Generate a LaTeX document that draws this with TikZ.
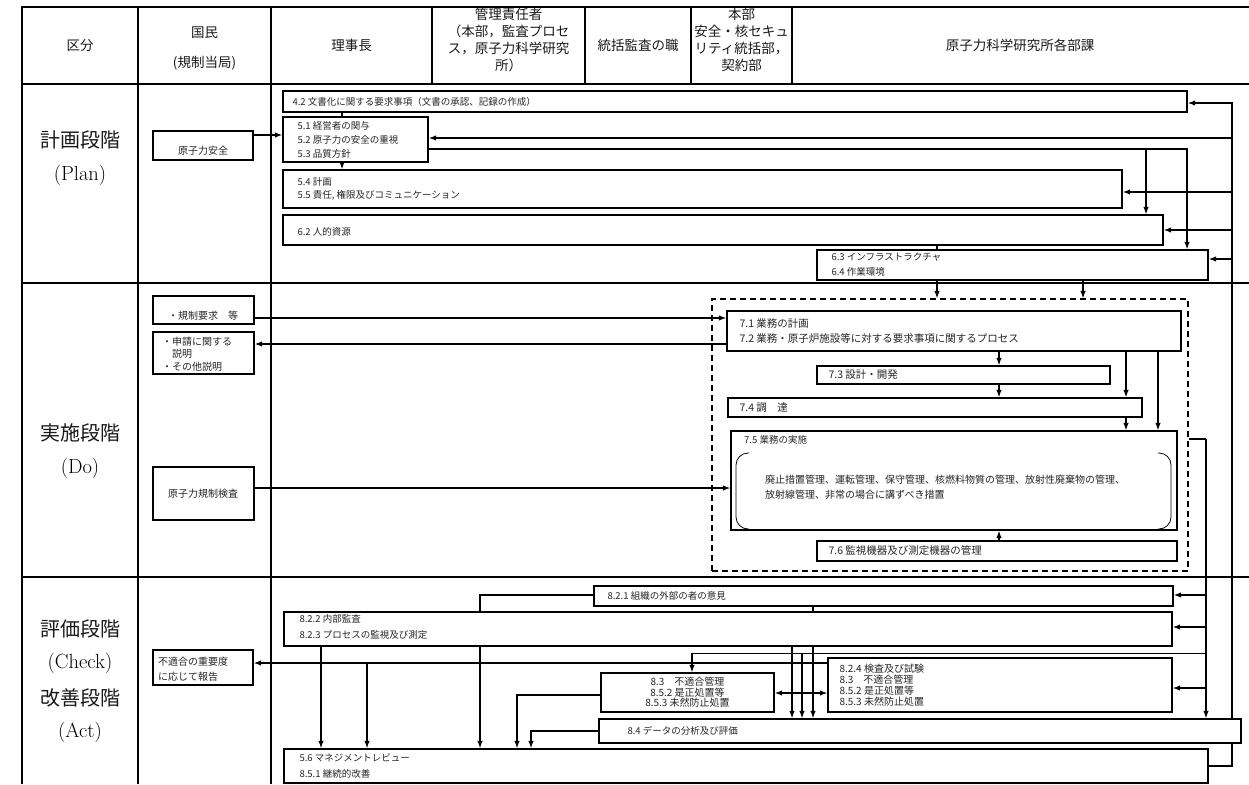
\documentclass[tikz,border=0pt]{standalone}
\usepackage{fontspec}
\newfontfamily\cjk{Noto Sans CJK JP}
\usetikzlibrary{fit,arrows.meta}
\newcommand\fs[2]{\fontsize{#1}{#2}\selectfont\cjk}
\begin{document}
\begin{tikzpicture}[x=1pt,y=-1pt,
 tline/.style={line width=2.4pt},
 box/.style={draw, line width=1.3pt, fill=white, inner sep=0pt, rectangle},
 conn/.style={line width=1.2pt},
 arr/.style={conn, -{Latex[length=7.5pt,width=5.5pt]}},
 darr/.style={conn, {Latex[length=7.5pt,width=5.5pt]}-{Latex[length=7.5pt,width=5.5pt]}},
 thinl/.style={line width=0.7pt},
 txt/.style={inner sep=0pt, align=left, anchor=west, text=black!85},
 ctxt/.style={inner sep=0pt, align=center, text=black!85},
 hdr/.style={inner sep=0pt, align=center, font=\fs{13.5}{17}, text=black!90},
 lbl/.style={inner sep=0pt, font=\fs{20}{24}, text=black!90},
 lat/.style={inner sep=0pt, font=\fontsize{20.5}{24}\selectfont\rmfamily},
]
\useasboundingbox (0,0) rectangle (1249,784);

% ---------- table ----------
\draw[tline] (1249,7) -- (22,7) -- (22,784);
\draw[tline] (22,84) -- (1249,84);
\draw[tline] (22,283) -- (1249,283);
\draw[tline] (22,577) -- (1249,577);
\foreach \x in {138,271} \draw[tline] (\x,7) -- (\x,784);
\foreach \x in {432,585,691,792} \draw[tline] (\x,7) -- (\x,84);

% ---------- header ----------
\node[hdr] (h1) at (80,45.5) {区分};
\node[hdr, font=\fs{13.5}{30}] (h2) at (204.5,48) {国民\\(規制当局)};
\node[hdr] (h3) at (351.5,45.5) {理事長};
\node[hdr] (h4) at (508.5,39.5) {管理責任者\\（本部，監査プロセ\\ス，原子力科学研究\\所）};
\node[hdr] (h5) at (638,45.5) {統括監査の職};
\node[hdr] (h6) at (741.5,39.5) {本部\\安全・核セキュ\\リティ統括部，\\契約部};
\node[hdr] (h7) at (1020,45.5) {原子力科学研究所各部課};

% ---------- row labels ----------
\node[lbl] (l1) at (80,140) {計画段階};
\node[lat] (l2) at (80,175) {(Plan)};
\node[lbl] (l3) at (80,433) {実施段階};
\node[lat] (l4) at (80,468) {(Do)};
\node[lbl] (l5) at (80,629) {評価段階};
\node[lat] (l6) at (80,663) {(Check)};
\node[lbl] (l7) at (80,698) {改善段階};
\node[lat] (l8) at (80,732) {(Act)};

% ---------- plan boxes ----------
\node[box, fit={(283,91)(1187,112)}] (b42) {};
\node[txt, font=\fs{9.5}{12}] (t42) at ([xshift=10pt]b42.west) {4.2 文書化に関する要求事項（文書の承認、記録の作成）};
\node[box, fit={(283,117)(428,162)}] (b51) {};
\node[txt, font=\fs{9.5}{14}] (t51) at ([xshift=15pt]b51.west) {5.1 経営者の関与\\5.2 原子力の安全の重視\\5.3 品質方針};
\node[box, fit={(283,170)(1122,208)}] (b54) {};
\node[txt, font=\fs{9.5}{12.5}] (t54) at ([xshift=15pt]b54.west) {5.4 計画\\5.5 責任, 権限及びコミュニケーション};
\node[box, fit={(283,215)(1163,245)}] (b62) {};
\node[txt, font=\fs{9.5}{12}] (t62) at ([xshift=15pt,yshift=-1.5pt]b62.west) {6.2 人的資源};
\node[box, fit={(817,250)(1208,280)}] (b63) {};
\node[txt, font=\fs{9.5}{15}] (t63) at ([xshift=15pt]b63.west) {6.3 インフラストラクチャ\\6.4 作業環境};
\node[box, fit={(153,131)(253,160)}] (bsafe) {};
\node[ctxt, font=\fs{10}{12}] (tsafe) at (203,151) {原子力安全};

% ---------- do boxes ----------
\node[draw, dashed, dash pattern=on 6pt off 4pt, line width=1.2pt, inner sep=0pt, fit={(712,299)(1188,571)}] (dbox) {};
\node[box, fit={(727,311)(1181,351)}] (b71) {};
\node[txt, font=\fs{10.5}{15}] (t71) at ([xshift=13pt]b71.west) {7.1 業務の計画\\7.2 業務・原子炉施設等に対する要求事項に関するプロセス};
\node[box, fit={(817,366)(1110,384)}] (b73) {};
\node[txt, font=\fs{10.5}{12}] (t73) at ([xshift=12pt]b73.west) {7.3 設計・開発};
\node[box, fit={(728,398)(1142,417)}] (b74) {};
\node[txt, font=\fs{10.5}{12}] (t74) at ([xshift=12pt]b74.west) {7.4 調　達};
\node[box, fit={(731,431)(1177,530)}] (b75) {};
\node[txt, font=\fs{9.5}{12}] (t75) at (744,440) {7.5 業務の実施};
\draw[line width=0.8pt, rounded corners=12pt] (749,453) -- (736,453) -- (736,529) -- (749,529);
\draw[line width=0.8pt, rounded corners=12pt] (1158,453) -- (1171,453) -- (1171,529) -- (1158,529);
\node[txt, font=\fs{10}{15}] (t75b) at (765,487) {廃止措置管理、運転管理、保守管理、核燃料物質の管理、放射性廃棄物の管理、\\放射線管理、非常の場合に講ずべき措置};
\node[box, fit={(817,541)(1177,561)}] (b76) {};
\node[txt, font=\fs{10.5}{12}] (t76) at ([xshift=12pt]b76.west) {7.6 監視機器及び測定機器の管理};
\node[box, fit={(153,296)(254,324)}] (breg) {};
\node[ctxt, font=\fs{10}{12}] (treg) at (203,316) {・規制要求　等};
\node[box, fit={(153,332)(254,374)}] (bapp) {};
\node[txt, font=\fs{10}{12.5}] (tapp) at (162,354) {・申請に関する\\　説明\\・その他説明};
\node[box, fit={(153,467)(254,520)}] (binsp) {};
\node[ctxt, font=\fs{10}{12}] (tinsp) at (203,494) {原子力規制検査};

% ---------- check boxes ----------
\node[box, fit={(594,586)(1173,606)}] (b821) {};
\node[txt, font=\fs{9.5}{12}] (t821) at ([xshift=14pt]b821.west) {8.2.1 組織の外部の者の意見};
\node[box, fit={(284,612)(1172,646)}] (b822) {};
\node[txt, font=\fs{9.5}{16}] (t822) at ([xshift=16pt,yshift=2pt]b822.west) {8.2.2 内部監査\\8.2.3 プロセスの監視及び測定};
\node[box, fit={(153,650)(253,685)}] (bnc) {};
\node[txt, font=\fs{10}{15}] (tnc) at (158,669) {不適合の重要度\\に応じて報告};
\node[box, fit={(601,673)(774,712)}] (b83) {};
\node[ctxt, font=\fs{10}{10.5}] (t83) at (b83.center) {8.3　不適合管理\\8.5.2 是正処置等\\8.5.3 未然防止処置};
\node[box, fit={(828,658)(1172,712)}] (b824) {};
\node[txt, font=\fs{10}{11}] (t824) at ([xshift=12pt]b824.west) {8.2.4 検査及び試験\\8.3　不適合管理\\8.5.2 是正処置等\\8.5.3 未然防止処置};
\node[box, fit={(599,719)(1241,743)}] (b84) {};
\node[txt, font=\fs{9.5}{12}] (t84) at ([xshift=29pt]b84.west) {8.4 データの分析及び評価};
\node[box, fit={(284,749)(1208,783)}] (b56) {};
\node[txt, font=\fs{9.5}{16}] (t56) at ([xshift=16pt]b56.west) {5.6 マネジメントレビュー\\8.5.1 継続的改善};

% ---------- bus coordinates ----------
\coordinate (busT) at (1232,103);
\coordinate (busB) at (1232,766);
\coordinate (busR) at (1206,439);
\coordinate (p53) at (1187,149);
\coordinate (p62) at (1146,149);
\coordinate (p653) at (692,653);
\coordinate (p663) at (367,663);
\coordinate (p821) at (480,595);

% ---------- plan connectors ----------
\draw[arr] (bsafe.east |- 0,135) -- (b51.west |- 0,135);
\draw[conn] (b42.south -| 342,0) -- (b51.north -| 342,0);
\draw[arr] (b51.south -| 342,0) -- (b54.north -| 342,0);
\draw[arr] (b84.north -| busT) -- (busT) -- (b42.east |- busT);
\draw[conn] (b56.east |- busB) -- (busB) -- (b84.south -| busB);
\draw[arr] (busT |- 0,138) -- (b51.east |- 0,138);
\draw[arr] (busT |- 0,192) -- (b54.east |- 0,192);
\draw[arr] (busT |- 0,230) -- (b62.east |- 0,230);
\draw[arr] (busT |- 0,259) -- (b63.east |- 0,259);
\draw[arr] (b51.east |- p53) -- (p53) -- (b63.north -| p53);
\draw[arr] (p62) -- (b62.north -| p62);
\draw[conn] (b62.south -| 937,0) -- (b63.north -| 937,0);
\draw[arr] (b63.south -| 937,0) -- (dbox.north -| 937,0);
\draw[arr] (b63.south -| 1083,0) -- (dbox.north -| 1083,0);

% ---------- do connectors ----------
\draw[arr] (breg.east |- 0,318) -- (b71.west |- 0,318);
\draw[arr] (b71.west |- 0,344) -- (bapp.east |- 0,344);
\draw[arr] (binsp.east |- 0,488) -- (b75.west |- 0,488);
\draw[arr] (b71.south -| 999,0) -- (b73.north -| 999,0);
\draw[arr] (b73.south -| 999,0) -- (b74.north -| 999,0);
\draw[arr] (b71.south -| 1126,0) -- (b74.north -| 1126,0);
\draw[arr] (b74.south -| 1126,0) -- (b75.north -| 1126,0);
\draw[arr] (b71.south -| 1158,0) -- (b75.north -| 1158,0);
\draw[arr] (b76.north -| 999,0) -- (b75.south -| 999,0);
\draw[conn] (dbox.east |- busR) -- (busR);
\draw[arr] (busR) -- (b84.north -| busR);

% ---------- check connectors ----------
\draw[arr] (busR |- 0,595) -- (b821.east |- 0,595);
\draw[arr] (busR |- 0,627) -- (b822.east |- 0,627);
\draw[arr] (busR |- 0,688) -- (b824.east |- 0,688);
\draw[thinl] (busR |- p653) -- (p653);
\draw[arr] (p653) -- (b83.north -| p653);
\draw[arr] (802,653) -- (b84.north -| 802,0);
\draw[conn] (b821.west |- p821) -- (p821) -- (b822.north -| p821);
\draw[arr] (b822.south -| p821) -- (b56.north -| p821);
\draw[conn] (b821.south -| 813,0) -- (b822.north -| 813,0);
\draw[arr] (b822.south -| 813,0) -- (b84.north -| 813,0);
\draw[arr] (b822.south -| 792,0) -- (b84.north -| 792,0);
\draw[arr] (b822.south -| 321,0) -- (b56.north -| 321,0);
\draw[arr] (b824.west |- p663) -- (bnc.east |- p663);
\draw[arr] (p663) -- (b56.north -| p663);
\draw[arr] (b83.west |- 0,695) -| (b56.north -| 517,0);
\draw[arr] (b84.west |- 0,731) -| (b56.north -| 531,0);
\draw[darr] (b83.east |- 0,693) -- (b824.west |- 0,693);
\end{tikzpicture}
\end{document}
